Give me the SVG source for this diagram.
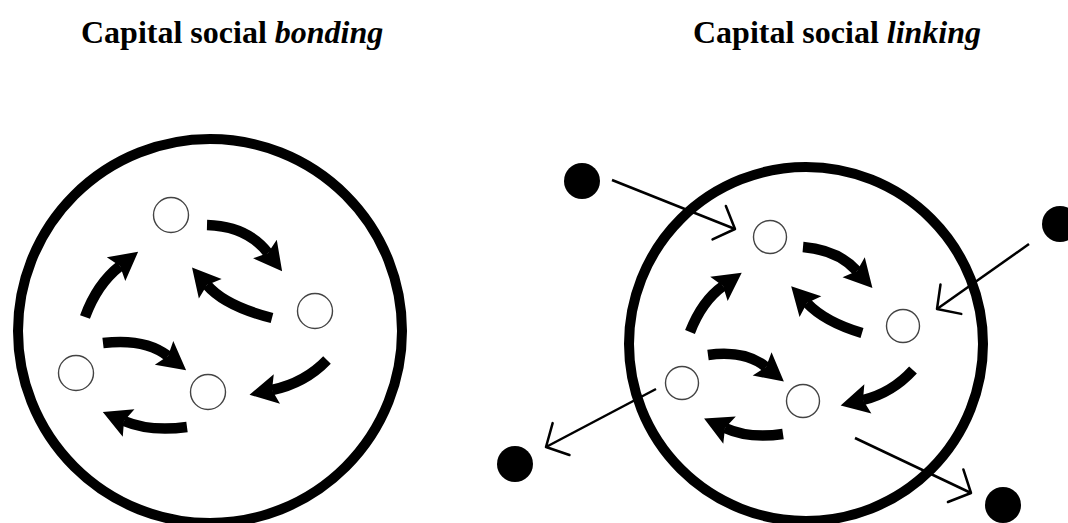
<svg xmlns="http://www.w3.org/2000/svg" width="1068" height="523" viewBox="0 0 1068 523">
  <style>
    .title { font-family: "Liberation Serif", "Times New Roman", serif; font-size: 32px; font-weight: bold; fill: #000; }
    .it { font-style: italic; }
    .big { fill: none; stroke: #000; stroke-width: 10; }
    .node { fill: #fff; stroke: #444; stroke-width: 1.4; }
    .dot { fill: #000; }
    .thick { fill: none; stroke: #000; stroke-width: 10.5; marker-end: url(#head); }
    .thin { fill: none; stroke: #000; stroke-width: 2.5; marker-end: url(#vhead); }
  </style>
  <defs>
    <marker id="head" markerUnits="userSpaceOnUse" viewBox="-6 -16 32 32" refX="0" refY="0" markerWidth="32" markerHeight="32" orient="auto" overflow="visible">
      <path d="M-5,-15 L23,0 L-5,15 L0,0 z" fill="#000"/>
    </marker>
    <marker id="vhead" markerUnits="userSpaceOnUse" viewBox="-20 -20 24 40" refX="0" refY="0" markerWidth="24" markerHeight="40" orient="auto" overflow="visible">
      <path d="M-17,-18 L0,0 L-17,18" fill="none" stroke="#000" stroke-width="2.5" stroke-linecap="round" stroke-linejoin="round"/>
    </marker>
  </defs>
  <rect width="1068" height="523" fill="#fff"/>

  <g id="titles">
    <text class="title" x="81" y="43">Capital social <tspan class="it">bonding</tspan></text>
    <text class="title" x="693" y="43">Capital social <tspan class="it">linking</tspan></text>
  </g>

  <g id="bonding-group">
    <circle class="big" cx="210" cy="331" r="192"/>
  </g>
  <g id="bonding-nodes">
    <circle id="b-n1" class="node" cx="171" cy="215" r="17.5"/>
    <circle id="b-n2" class="node" cx="315" cy="311" r="17.5"/>
    <circle id="b-n3" class="node" cx="76" cy="373" r="17.5"/>
    <circle id="b-n4" class="node" cx="208" cy="392" r="17.5"/>
  </g>

  <g id="linking-group">
    <circle class="big" cx="806" cy="344" r="177"/>
  </g>
  <g id="linking-nodes">
    <circle id="l-n1" class="node" cx="770" cy="237" r="16.5"/>
    <circle id="l-n2" class="node" cx="903" cy="326" r="16.5"/>
    <circle id="l-n3" class="node" cx="682" cy="383" r="16.5"/>
    <circle id="l-n4" class="node" cx="803" cy="401" r="16.5"/>
  </g>
  <g id="outside-nodes">
    <circle id="o1" class="dot" cx="582" cy="181" r="18"/>
    <circle id="o2" class="dot" cx="1060" cy="224" r="18"/>
    <circle id="o3" class="dot" cx="515" cy="464" r="18"/>
    <circle id="o4" class="dot" cx="1003" cy="505" r="18"/>
  </g>

  <g id="connectors">
    <path class="thick" d="M207,225 Q247,226 268,253"/>
    <path class="thick" d="M272,318 Q225,306 207,285"/>
    <path class="thick" d="M85,317 Q97,284 120,266"/>
    <path class="thick" d="M103,343 Q145,338 168,356"/>
    <path class="thick" d="M327,360 Q305,383 272,390"/>
    <path class="thick" d="M187,427 Q150,432 124,421"/>

    <path class="thick" d="M803,247 Q838,250 857,271"/>
    <path class="thick" d="M862,333 Q825,322 807,303"/>
    <path class="thick" d="M690,332 Q702,301 723,286"/>
    <path class="thick" d="M708,355 Q745,350 766,367"/>
    <path class="thick" d="M913,370 Q892,393 863,400"/>
    <path class="thick" d="M783,434 Q749,439 725,428"/>

    <path class="thin" d="M612,180 L735,229"/>
    <path class="thin" d="M1029,244 L937,309"/>
    <path class="thin" d="M656,389 L546,447"/>
    <path class="thin" d="M855,438 L971,493"/>
  </g>
</svg>
